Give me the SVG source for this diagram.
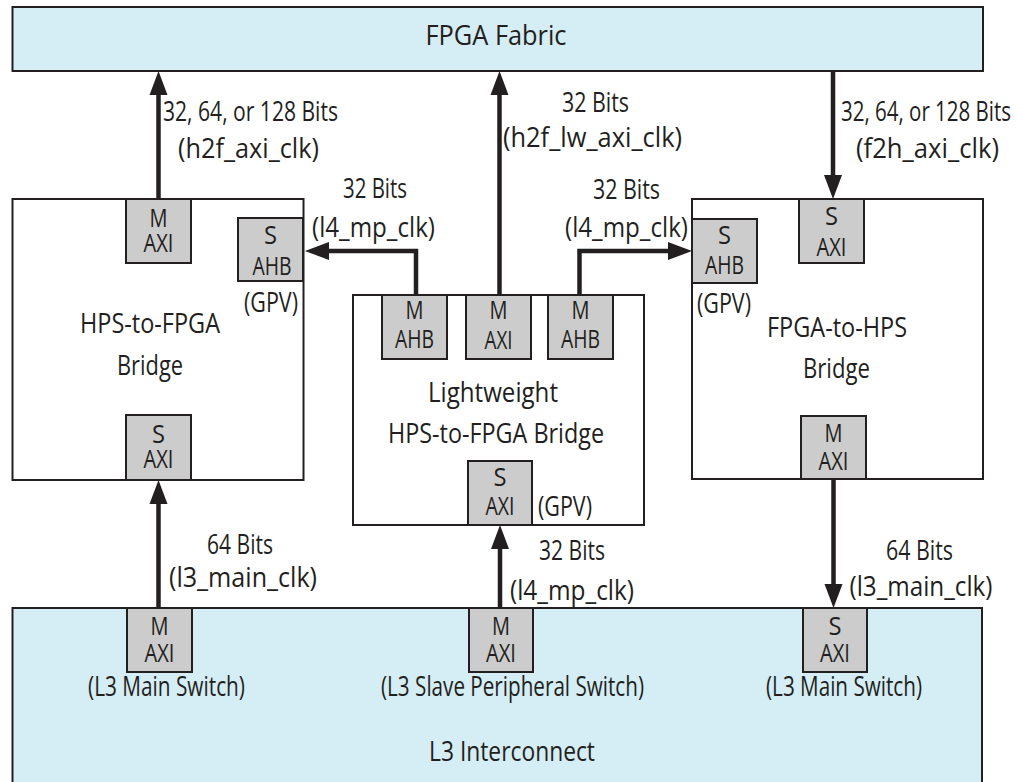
<svg xmlns="http://www.w3.org/2000/svg" width="1023" height="782" viewBox="0 0 1023 782">
<style>
text{font-family:"Open Sans","DejaVu Sans Condensed","Liberation Sans",sans-serif;font-size:27px;fill:#231f20;text-anchor:middle}
.bx{fill:#ffffff;stroke:#231f20;stroke-width:2}
.bl{fill:#d5edf4;stroke:#231f20;stroke-width:2}
.port{fill:#cccccc;stroke:#231f20;stroke-width:2}
.pt{font-size:26px}
.cn{fill:none;stroke:#231f20;stroke-width:4.5;marker-end:url(#ah)}
</style>
<defs>
<marker id="ah" markerUnits="userSpaceOnUse" markerWidth="24" markerHeight="18" refX="0" refY="9" orient="auto" overflow="visible">
<path d="M0,0 L24,9 L0,18 z" fill="#231f20"/>
</marker>
</defs>

<g id="fpga-fabric">
<rect class="bl" x="12.5" y="7" width="970.5" height="64"/>
<text x="496" y="45" textLength="141" lengthAdjust="spacingAndGlyphs">FPGA Fabric</text>
</g>

<g id="l3-interconnect">
<rect class="bl" x="12.5" y="608" width="969.5" height="180"/>
<text x="512" y="761" textLength="166" lengthAdjust="spacingAndGlyphs">L3 Interconnect</text>
<text x="166.5" y="696" textLength="157" lengthAdjust="spacingAndGlyphs">(L3 Main Switch)</text>
<text x="512.5" y="696" textLength="263" lengthAdjust="spacingAndGlyphs">(L3 Slave Peripheral Switch)</text>
<text x="844" y="696" textLength="156" lengthAdjust="spacingAndGlyphs">(L3 Main Switch)</text>
</g>

<g id="hps-to-fpga-bridge">
<rect class="bx" x="12.5" y="199" width="291" height="281"/>
<text x="150" y="333" textLength="140" lengthAdjust="spacingAndGlyphs">HPS-to-FPGA</text>
<text x="150" y="375" textLength="66" lengthAdjust="spacingAndGlyphs">Bridge</text>
<text x="271" y="312" textLength="54" lengthAdjust="spacingAndGlyphs">(GPV)</text>
</g>

<g id="lightweight-bridge">
<rect class="bx" x="353" y="295" width="291" height="230"/>
<text x="493" y="402" textLength="130" lengthAdjust="spacingAndGlyphs">Lightweight</text>
<text x="496" y="443" textLength="216" lengthAdjust="spacingAndGlyphs">HPS-to-FPGA Bridge</text>
<text x="565" y="516" textLength="54" lengthAdjust="spacingAndGlyphs">(GPV)</text>
</g>

<g id="fpga-to-hps-bridge">
<rect class="bx" x="692" y="199" width="291" height="280"/>
<text x="837" y="337" textLength="140" lengthAdjust="spacingAndGlyphs">FPGA-to-HPS</text>
<text x="836.5" y="378" textLength="67" lengthAdjust="spacingAndGlyphs">Bridge</text>
<text x="724" y="313" textLength="54" lengthAdjust="spacingAndGlyphs">(GPV)</text>
</g>

<g id="h2f-m-axi">
<rect class="port" x="126" y="199" width="65" height="64"/>
<text class="pt"><tspan x="158.5" y="227" textLength="18" lengthAdjust="spacingAndGlyphs">M</tspan><tspan x="158.5" y="252" textLength="30" lengthAdjust="spacingAndGlyphs">AXI</tspan></text>
</g>
<g id="h2f-s-ahb">
<rect class="port" x="238" y="218" width="65" height="63"/>
<text class="pt"><tspan x="270.5" y="244" textLength="13" lengthAdjust="spacingAndGlyphs">S</tspan><tspan x="272" y="275" textLength="39" lengthAdjust="spacingAndGlyphs">AHB</tspan></text>
</g>
<g id="h2f-s-axi">
<rect class="port" x="126" y="415" width="65" height="65"/>
<text class="pt"><tspan x="158.5" y="443" textLength="13" lengthAdjust="spacingAndGlyphs">S</tspan><tspan x="158.5" y="468" textLength="30" lengthAdjust="spacingAndGlyphs">AXI</tspan></text>
</g>

<g id="lw-m-ahb-left">
<rect class="port" x="382" y="295" width="65" height="64"/>
<text class="pt"><tspan x="414.5" y="319" textLength="18" lengthAdjust="spacingAndGlyphs">M</tspan><tspan x="414.5" y="348" textLength="39" lengthAdjust="spacingAndGlyphs">AHB</tspan></text>
</g>
<g id="lw-m-axi">
<rect class="port" x="466" y="295" width="65" height="64"/>
<text class="pt"><tspan x="498.5" y="319" textLength="18" lengthAdjust="spacingAndGlyphs">M</tspan><tspan x="498.5" y="349" textLength="28" lengthAdjust="spacingAndGlyphs">AXI</tspan></text>
</g>
<g id="lw-m-ahb-right">
<rect class="port" x="548" y="295" width="65" height="64"/>
<text class="pt"><tspan x="580.5" y="319" textLength="18" lengthAdjust="spacingAndGlyphs">M</tspan><tspan x="580.5" y="348" textLength="39" lengthAdjust="spacingAndGlyphs">AHB</tspan></text>
</g>
<g id="lw-s-axi">
<rect class="port" x="468" y="461" width="64" height="64"/>
<text class="pt"><tspan x="500" y="486" textLength="13" lengthAdjust="spacingAndGlyphs">S</tspan><tspan x="500" y="515" textLength="29" lengthAdjust="spacingAndGlyphs">AXI</tspan></text>
</g>

<g id="f2h-s-ahb">
<rect class="port" x="692" y="219" width="65" height="64"/>
<text class="pt"><tspan x="724.5" y="244" textLength="13" lengthAdjust="spacingAndGlyphs">S</tspan><tspan x="724.5" y="274" textLength="39" lengthAdjust="spacingAndGlyphs">AHB</tspan></text>
</g>
<g id="f2h-s-axi">
<rect class="port" x="799" y="199" width="65" height="64"/>
<text class="pt"><tspan x="831.5" y="225" textLength="13" lengthAdjust="spacingAndGlyphs">S</tspan><tspan x="831.5" y="256" textLength="30" lengthAdjust="spacingAndGlyphs">AXI</tspan></text>
</g>
<g id="f2h-m-axi">
<rect class="port" x="801" y="416" width="65" height="63"/>
<text class="pt"><tspan x="833.5" y="442" textLength="18" lengthAdjust="spacingAndGlyphs">M</tspan><tspan x="833.5" y="470" textLength="30" lengthAdjust="spacingAndGlyphs">AXI</tspan></text>
</g>

<g id="l3-m-axi-left">
<rect class="port" x="127" y="608" width="65" height="64"/>
<text class="pt"><tspan x="159.5" y="635" textLength="18" lengthAdjust="spacingAndGlyphs">M</tspan><tspan x="159.5" y="662" textLength="30" lengthAdjust="spacingAndGlyphs">AXI</tspan></text>
</g>
<g id="l3-m-axi-mid">
<rect class="port" x="469" y="608" width="64" height="64"/>
<text class="pt"><tspan x="501" y="635" textLength="18" lengthAdjust="spacingAndGlyphs">M</tspan><tspan x="501" y="662" textLength="30" lengthAdjust="spacingAndGlyphs">AXI</tspan></text>
</g>
<g id="l3-s-axi-right">
<rect class="port" x="803" y="608" width="64" height="64"/>
<text class="pt"><tspan x="835" y="635" textLength="13" lengthAdjust="spacingAndGlyphs">S</tspan><tspan x="835" y="662" textLength="30" lengthAdjust="spacingAndGlyphs">AXI</tspan></text>
</g>

<g id="connectors">
<path class="cn" d="M158.5,199 V95"/>
<path class="cn" d="M499.5,295 V95"/>
<path class="cn" d="M833,71 V175"/>
<path class="cn" d="M416,295 V251 H329"/>
<path class="cn" d="M579.5,295 V251 H668"/>
<path class="cn" d="M158.5,608 V504"/>
<path class="cn" d="M500,608 V549"/>
<path class="cn" d="M833.5,479 V584"/>
<text x="250.5" y="121" textLength="175" lengthAdjust="spacingAndGlyphs">32, 64, or 128 Bits</text>
<text x="248.5" y="158" textLength="141" lengthAdjust="spacingAndGlyphs">(h2f_axi_clk)</text>
<text x="595.5" y="112" textLength="67" lengthAdjust="spacingAndGlyphs">32 Bits</text>
<text x="592.5" y="147" textLength="179" lengthAdjust="spacingAndGlyphs">(h2f_lw_axi_clk)</text>
<text x="926" y="121" textLength="170" lengthAdjust="spacingAndGlyphs">32, 64, or 128 Bits</text>
<text x="927.5" y="158" textLength="143" lengthAdjust="spacingAndGlyphs">(f2h_axi_clk)</text>
<text x="375" y="198" textLength="64" lengthAdjust="spacingAndGlyphs">32 Bits</text>
<text x="373.5" y="237" textLength="123" lengthAdjust="spacingAndGlyphs">(l4_mp_clk)</text>
<text x="626.5" y="199" textLength="67" lengthAdjust="spacingAndGlyphs">32 Bits</text>
<text x="626.5" y="237" textLength="123" lengthAdjust="spacingAndGlyphs">(l4_mp_clk)</text>
<text x="240" y="554" textLength="66" lengthAdjust="spacingAndGlyphs">64 Bits</text>
<text x="243" y="587" textLength="148" lengthAdjust="spacingAndGlyphs">(l3_main_clk)</text>
<text x="572" y="560" textLength="66" lengthAdjust="spacingAndGlyphs">32 Bits</text>
<text x="572" y="600" textLength="124" lengthAdjust="spacingAndGlyphs">(l4_mp_clk)</text>
<text x="919.5" y="560" textLength="67" lengthAdjust="spacingAndGlyphs">64 Bits</text>
<text x="921" y="596" textLength="143" lengthAdjust="spacingAndGlyphs">(l3_main_clk)</text>
</g>
</svg>
